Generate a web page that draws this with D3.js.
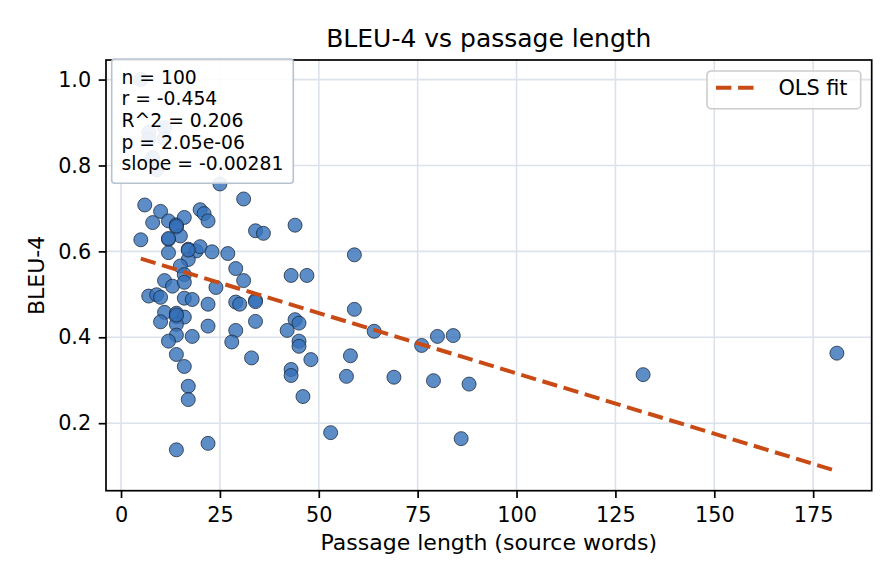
<!DOCTYPE html>
<html>
<head>
<meta charset="utf-8">
<script src="https://d3js.org/d3.v7.min.js"></script>
<style>
  body { margin: 0; background: #fff; }
  text { font-family: "DejaVu Sans", sans-serif; }
</style>
</head>
<body>
<div id="my_dataviz"></div>
<script>

// data
var passageLen = [5, 7, 11, 7, 11, 8, 9, 25, 6, 31,
                  10, 20, 21, 22, 8, 12, 14, 14, 16, 15,
                  12, 5, 34, 36, 44, 12, 17, 19, 20, 23,
                  27, 59, 17, 15, 29, 16, 43, 47, 31, 11,
                  13, 16, 24, 7, 9, 10, 16, 18, 22, 29,
                  30, 34, 34, 59, 11, 14, 14, 16, 34, 44,
                  45, 10, 14, 22, 29, 42, 64, 14, 18, 80,
                  84, 12, 28, 45, 45, 76, 181, 14, 33, 58,
                  48, 16, 43, 132, 43, 57, 69, 79, 88, 17,
                  46, 17, 53, 86, 22, 14, 14, 14, 17, 12];
var bleu4 = [1.000, 0.877, 0.888, 0.862, 0.863, 0.818, 0.790, 0.757, 0.708, 0.722,
             0.693, 0.697, 0.688, 0.671, 0.667, 0.671, 0.662, 0.656, 0.679, 0.636,
             0.628, 0.627, 0.648, 0.642, 0.661, 0.597, 0.605, 0.601, 0.611, 0.599,
             0.595, 0.592, 0.581, 0.566, 0.560, 0.546, 0.544, 0.544, 0.532, 0.532,
             0.519, 0.528, 0.516, 0.496, 0.499, 0.493, 0.491, 0.488, 0.477, 0.482,
             0.477, 0.486, 0.483, 0.465, 0.458, 0.456, 0.448, 0.447, 0.437, 0.441,
             0.433, 0.436, 0.430, 0.426, 0.416, 0.416, 0.414, 0.405, 0.402, 0.402,
             0.404, 0.391, 0.389, 0.391, 0.379, 0.381, 0.363, 0.360, 0.352, 0.357,
             0.348, 0.332, 0.325, 0.313, 0.311, 0.309, 0.307, 0.299, 0.291, 0.286,
             0.262, 0.255, 0.178, 0.164, 0.153, 0.138, 0.659, 0.452, 0.603, 0.630];

var fitSlope = -0.00281,
    fitIntercept = 0.597;

var statLines = ["n = 100", "r = -0.454", "R^2 = 0.206", "p = 2.05e-06", "slope = -0.00281"];
var xTicks = [0, 25, 50, 75, 100, 125, 150, 175];
var yTicks = [0.2, 0.4, 0.6, 0.8, 1.0];

// layout
var W = 896, H = 584;
var margin = {top: 60, right: 24.3, bottom: 93.3, left: 106},
    width = W - margin.left - margin.right,
    height = H - margin.top - margin.bottom;

var svg = d3.select("#my_dataviz")
  .append("svg")
    .attr("width", W)
    .attr("height", H);

var g = svg.append("g")
    .attr("transform", "translate(" + margin.left + "," + margin.top + ")");

// fit line ends
var xmin = d3.min(passageLen), xmax = d3.max(passageLen);
var fitPts = [[xmin, fitIntercept + fitSlope * xmin], [xmax, fitIntercept + fitSlope * xmax]];

// 5% padding like matplotlib autoscale
var xr = [xmin, xmax], yr = [d3.min(bleu4.concat(fitPts.map(function(p){ return p[1]; }))), d3.max(bleu4)];
var xpad = (xr[1] - xr[0]) * 0.05, ypad = (yr[1] - yr[0]) * 0.05;

var x = d3.scaleLinear()
  .domain([xr[0] - xpad, xr[1] + xpad])
  .range([0, width]);
var y = d3.scaleLinear()
  .domain([yr[0] - ypad, yr[1] + ypad])
  .range([height, 0]);

// grid
var gridColor = "#dbe2ec";
g.append("g").selectAll("line.vx")
  .data(xTicks).enter().append("line")
    .attr("x1", function(d){ return x(d); }).attr("x2", function(d){ return x(d); })
    .attr("y1", 0).attr("y2", height)
    .attr("stroke", gridColor).attr("stroke-width", 1.6);
g.append("g").selectAll("line.hy")
  .data(yTicks).enter().append("line")
    .attr("y1", function(d){ return y(d); }).attr("y2", function(d){ return y(d); })
    .attr("x1", 0).attr("x2", width)
    .attr("stroke", gridColor).attr("stroke-width", 1.6);

// points
g.append("g")
  .selectAll("circle")
  .data(passageLen)
  .enter()
  .append("circle")
    .attr("cx", function(d){ return x(d); })
    .attr("cy", function(d, i){ return y(bleu4[i]); })
    .attr("r", 7)
    .style("fill", "#3470b9")
    .style("fill-opacity", 0.8)
    .style("stroke", "#1a2638")
    .style("stroke-opacity", 0.85)
    .style("stroke-width", 0.9);

// OLS fit
g.append("path")
  .datum(fitPts)
  .attr("d", d3.line().x(function(d){ return x(d[0]); }).y(function(d){ return y(d[1]); }))
  .attr("fill", "none")
  .attr("stroke", "#c84b16")
  .attr("stroke-width", 4)
  .attr("stroke-dasharray", "15.4,6.7");

// frame
g.append("rect")
  .attr("width", width).attr("height", height)
  .attr("fill", "none").attr("stroke", "#000").attr("stroke-width", 1.7);

// axes
var xAxis = g.append("g")
  .attr("transform", "translate(0," + height + ")")
  .call(d3.axisBottom(x).tickValues(xTicks).tickSize(7.3).tickPadding(9).tickFormat(d3.format("d")));
var yAxis = g.append("g")
  .call(d3.axisLeft(y).tickValues(yTicks).tickSize(7.3).tickPadding(7.5).tickFormat(d3.format(".1f")));
[xAxis, yAxis].forEach(function(a){
  a.select(".domain").remove();
  a.selectAll(".tick line").attr("stroke", "#000").attr("stroke-width", 1.7);
  a.selectAll(".tick text").attr("fill", "#000").style("font-size", "20.8px")
    .style("font-family", "DejaVu Sans");
});

// stats box
var fs = 18.75, lh = 21.7;
var box = g.append("g");
box.append("rect")
  .attr("x", 5.7).attr("y", -1)
  .attr("width", 181.6).attr("height", 124.3)
  .attr("rx", 3)
  .attr("fill", "#fff").attr("fill-opacity", 0.9)
  .attr("stroke", "#b6c2d2").attr("stroke-width", 1.6);
box.selectAll("text")
  .data(statLines).enter().append("text")
    .attr("x", 15.5)
    .attr("y", function(d, i){ return 23.5 + i * lh; })
    .style("font-size", fs + "px")
    .attr("fill", "#000")
    .text(function(d){ return d; });

// legend
var leg = g.append("g").attr("transform", "translate(" + (707 - margin.left) + "," + (71 - margin.top) + ")");
leg.append("rect")
  .attr("width", 153.7).attr("height", 37.7).attr("rx", 4)
  .attr("fill", "#fff").attr("fill-opacity", 0.8)
  .attr("stroke", "#cccccc").attr("stroke-width", 1.6);
leg.append("line")
  .attr("x1", 9).attr("x2", 48.5).attr("y1", 16.7).attr("y2", 16.7)
  .attr("stroke", "#c84b16").attr("stroke-width", 4)
  .attr("stroke-dasharray", "15.4,6.7");
leg.append("text")
  .attr("x", 71.5).attr("y", 24)
  .style("font-size", "20.8px")
  .text("OLS fit");

// title and axis labels
svg.append("text")
  .attr("x", margin.left + width / 2).attr("y", 47)
  .attr("text-anchor", "middle")
  .style("font-size", "25px")
  .text("BLEU-4 vs passage length");
svg.append("text")
  .attr("x", margin.left + width / 2).attr("y", 550)
  .attr("text-anchor", "middle")
  .style("font-size", "22px")
  .text("Passage length (source words)");
svg.append("text")
  .attr("transform", "translate(44," + (margin.top + height / 2) + ") rotate(-90)")
  .attr("text-anchor", "middle")
  .style("font-size", "22px")
  .text("BLEU-4");

</script>
</body>
</html>
